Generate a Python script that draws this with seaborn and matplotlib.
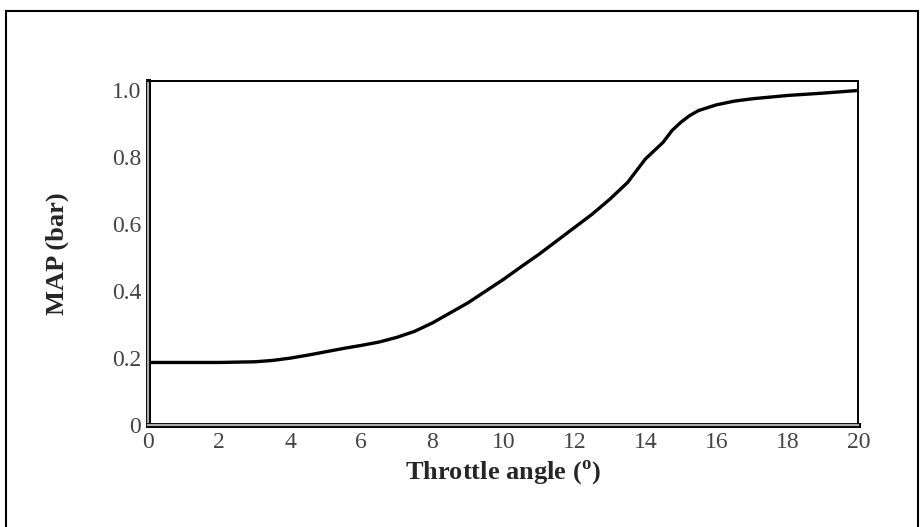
import matplotlib
matplotlib.use("Agg")
import matplotlib.pyplot as plt
import matplotlib.patheffects as pe
from matplotlib.patches import Rectangle
import pandas as pd
import seaborn as sns

# throttle angle (deg) vs manifold absolute pressure (bar)
throttle_angle = [0, 1, 2, 3, 3.5, 4, 4.5, 5, 5.5, 6, 6.5, 7, 7.5, 8, 8.5, 9,
                  9.5, 10, 10.5, 11, 11.5, 12, 12.5, 13, 13.5, 14, 14.25, 14.5,
                  14.75, 15, 15.25, 15.5, 16, 16.5, 17, 18, 19, 20]
map_bar = [0.187, 0.187, 0.187, 0.189, 0.193, 0.200, 0.209, 0.219, 0.229, 0.238,
           0.248, 0.262, 0.280, 0.305, 0.335, 0.365, 0.400, 0.435, 0.473, 0.510,
           0.550, 0.590, 0.630, 0.675, 0.725, 0.795, 0.820, 0.845, 0.880, 0.905,
           0.925, 0.940, 0.957, 0.968, 0.975, 0.985, 0.992, 1.000]
x_ticks = [0, 2, 4, 6, 8, 10, 12, 14, 16, 18, 20]
y_ticks = [0, 0.2, 0.4, 0.6, 0.8, 1.0]
y_tick_labels = ["0", "0.2", "0.4", "0.6", "0.8", "1.0"]

sns.set_style("white")
plt.rcParams["font.family"] = ["Liberation Serif", "DejaVu Serif"]
plt.rcParams["mathtext.fontset"] = "custom"
plt.rcParams["mathtext.rm"] = "Liberation Serif"
plt.rcParams["mathtext.bf"] = "Liberation Serif:bold"

df = pd.DataFrame({"angle": throttle_angle, "map": map_bar})

fig = plt.figure(figsize=(9.21, 5.27), dpi=100)
ax = fig.add_axes([0.161, 0.1935, 0.771, 0.652])

sns.lineplot(data=df, x="angle", y="map", color="black", linewidth=2.4, ax=ax)

ax.set_xlim(0, 20)
ax.set_ylim(0, 1.027)
ax.set_xticks(x_ticks)
ax.set_yticks(y_ticks)
ax.set_yticklabels(y_tick_labels)
ax.tick_params(length=0, labelsize=17, labelcolor="#444444", pad=5)

ax.set_xlabel(r"Throttle angle ($^{\mathbf{o}}$)", fontsize=19, fontweight="bold")
ax.set_ylabel("MAP (bar)", fontsize=19, fontweight="bold")
ax.xaxis.set_label_coords(0.5, -0.095)
ax.yaxis.set_label_coords(-0.112, 0.5)

for side in ["top", "right"]:
    ax.spines[side].set_color("black")
    ax.spines[side].set_linewidth(1.4)
for side in ["left", "bottom"]:
    ax.spines[side].set_color("#aaaaaa")
    ax.spines[side].set_linewidth(1.6)
    ax.spines[side].set_path_effects([pe.Stroke(linewidth=3.6, foreground="black"), pe.Normal()])

# outer border of the figure
fig.patches.append(Rectangle((0.006, -0.05), 0.991, 1.03, transform=fig.transFigure,
                             fill=False, edgecolor="black", linewidth=1.5))

fig.savefig("out.png", dpi=100)
